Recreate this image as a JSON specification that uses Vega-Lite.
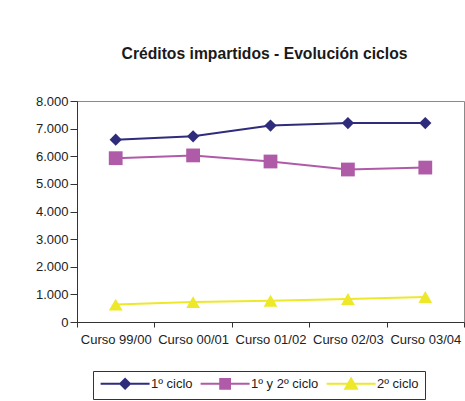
{
  "$schema": "https://vega.github.io/schema/vega-lite/v6.json",
  "width": 387,
  "height": 221,
  "autosize": "none",
  "padding": {"left": 77, "top": 101, "right": 1, "bottom": 79},
  "background": "white",
  "title": {
    "text": "Créditos impartidos - Evolución ciclos",
    "font": "Liberation Sans",
    "fontSize": 15.7,
    "fontWeight": "bold",
    "color": "#1a1a1a",
    "anchor": "middle",
    "dx": -6,
    "offset": 32
  },
  "config": {
    "view": {"stroke": "#8a8a8a", "strokeWidth": 1},
    "font": "Liberation Sans"
  },
  "data": {
    "values": [
      {"curso": "Curso 99/00", "serie": "1º ciclo", "valor": 6600},
      {"curso": "Curso 00/01", "serie": "1º ciclo", "valor": 6720},
      {"curso": "Curso 01/02", "serie": "1º ciclo", "valor": 7110},
      {"curso": "Curso 02/03", "serie": "1º ciclo", "valor": 7200},
      {"curso": "Curso 03/04", "serie": "1º ciclo", "valor": 7200},
      {"curso": "Curso 99/00", "serie": "1º y 2º ciclo", "valor": 5930},
      {"curso": "Curso 00/01", "serie": "1º y 2º ciclo", "valor": 6030},
      {"curso": "Curso 01/02", "serie": "1º y 2º ciclo", "valor": 5810},
      {"curso": "Curso 02/03", "serie": "1º y 2º ciclo", "valor": 5520},
      {"curso": "Curso 03/04", "serie": "1º y 2º ciclo", "valor": 5590},
      {"curso": "Curso 99/00", "serie": "2º ciclo", "valor": 630},
      {"curso": "Curso 00/01", "serie": "2º ciclo", "valor": 720},
      {"curso": "Curso 01/02", "serie": "2º ciclo", "valor": 770},
      {"curso": "Curso 02/03", "serie": "2º ciclo", "valor": 830},
      {"curso": "Curso 03/04", "serie": "2º ciclo", "valor": 905}
    ]
  },
  "encoding": {
    "x": {
      "field": "curso",
      "type": "nominal",
      "sort": null,
      "scale": {"type": "band", "paddingInner": 0, "paddingOuter": 0},
      "axis": {
        "title": null,
        "labelAngle": 0,
        "labelFontSize": 13,
        "labelColor": "#222222",
        "labelFont": "Liberation Sans",
        "domainColor": "#333333",
        "tickColor": "#333333",
        "tickSize": 5,
        "tickBand": "extent",
        "labelPadding": 6,
        "grid": false
      }
    },
    "y": {
      "field": "valor",
      "type": "quantitative",
      "scale": {"domain": [0, 8000], "nice": false},
      "axis": {
        "title": null,
        "values": [0, 1000, 2000, 3000, 4000, 5000, 6000, 7000, 8000],
        "labelExpr": "replace(format(datum.value, ','), ',', '.')",
        "labelFontSize": 13,
        "labelColor": "#222222",
        "labelFont": "Liberation Sans",
        "domainColor": "#333333",
        "tickColor": "#333333",
        "tickSize": 7,
        "labelPadding": 2,
        "grid": false
      }
    },
    "color": {
      "field": "serie",
      "type": "nominal",
      "scale": {
        "domain": ["1º ciclo", "1º y 2º ciclo", "2º ciclo"],
        "range": ["#2f2c7c", "#b05ba8", "#eee82a"]
      },
      "legend": {
        "title": null,
        "orient": "none",
        "direction": "horizontal",
        "legendX": 16,
        "legendY": 270,
        "padding": 6,
        "strokeColor": "#333333",
        "fillColor": "white",
        "labelFontSize": 13,
        "labelFont": "Liberation Sans",
        "labelColor": "#222222",
        "labelOffset": 39,
        "symbolSize": 96,
        "symbolStrokeWidth": 2,
        "symbolOpacity": 1,
        "columnPadding": 3,
        "encode": {
          "symbols": {
            "update": {
              "shape": {"signal": "datum.index === 0 ? 'M-1,0H9M4,-1L5,0L4,1L3,0Z' : datum.index === 1 ? 'M-1,0H9M3,-1H5V1H3Z' : 'M-1,0H9M4,-1.1L5.2,1H2.8Z'"},
              "fill": {"signal": "scale('color', datum.value)"},
              "stroke": {"signal": "scale('color', datum.value)"}
            }
          }
        }
      }
    }
  },
  "layer": [
    {
      "mark": {"type": "line", "strokeWidth": 2}
    },
    {
      "transform": [{"filter": "datum.serie === '1º ciclo'"}],
      "mark": {"type": "point", "filled": true, "opacity": 1, "shape": "diamond", "size": 150}
    },
    {
      "transform": [{"filter": "datum.serie === '1º y 2º ciclo'"}],
      "mark": {"type": "point", "filled": true, "opacity": 1, "shape": "square", "size": 190}
    },
    {
      "transform": [{"filter": "datum.serie === '2º ciclo'"}],
      "mark": {"type": "point", "filled": true, "opacity": 1, "shape": "triangle-up", "size": 190}
    }
  ]
}
